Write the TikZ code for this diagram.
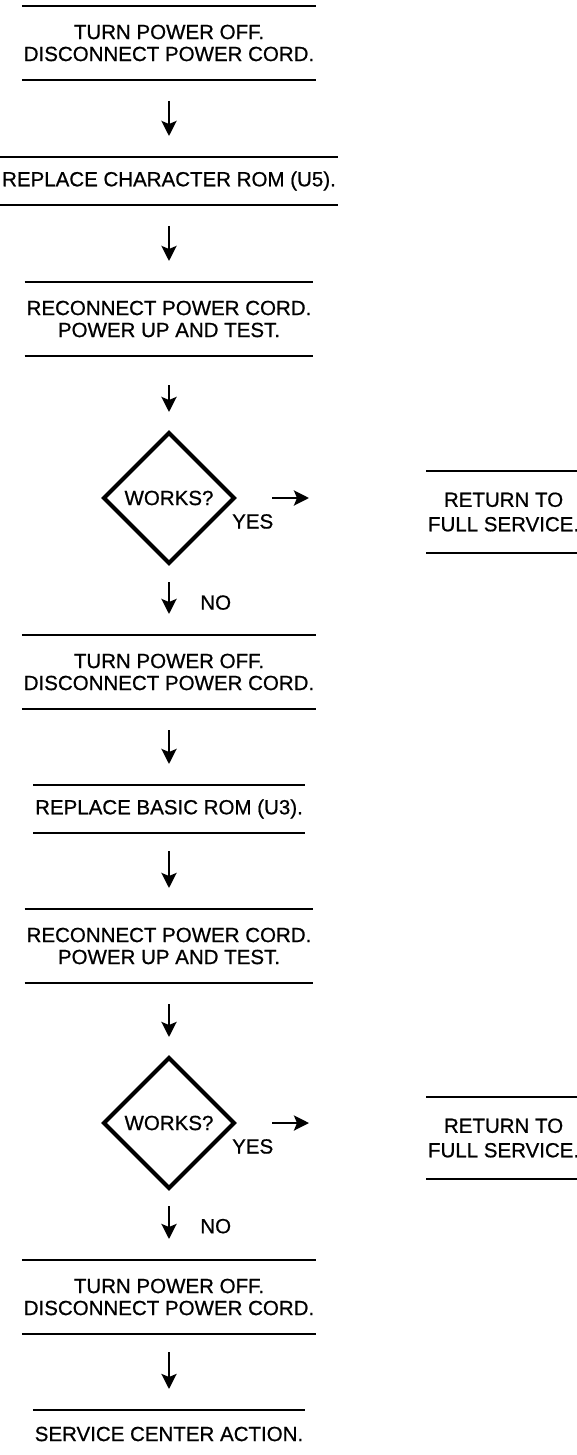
\documentclass[tikz,border=0pt]{standalone}
\usepackage{fontspec}
\setmainfont{Liberation Sans}[FakeBold=0.7]
\usetikzlibrary{shapes.geometric, arrows.meta, positioning}
\tikzset{
    stepbox/.style = {align=center, inner xsep=2pt, inner ysep=0pt, outer sep=0pt, font=\fontsize{20.5}{22}\selectfont},
    onebox/.style = {stepbox, minimum height=48pt},
    twobox/.style = {stepbox, minimum height=74pt},
    backbox/.style = {stepbox, minimum width=151pt, minimum height=82pt, font=\fontsize{20.5}{24.5}\selectfont},
    check/.style = {diamond, draw, line width=4.2pt, aspect=1, minimum width=130pt, minimum height=130pt, inner sep=0pt, outer sep=0pt, font=\fontsize{20.5}{22}\selectfont},
    ruleline/.style = {line width=2.2pt},
    flowarrow/.style = {line width=2.7pt, -{Stealth[length=15pt, width=15pt, inset=3pt]}, shorten <=21pt, shorten >=21pt},
    lbl/.style = {inner sep=0pt, font=\fontsize{20.5}{22}\selectfont}
}
\begin{document}
\begin{tikzpicture}[x=1pt, y=-1pt]
    \useasboundingbox (0,0) rectangle (577,1455);

    % first try: character ROM
    \node (b1) [twobox] at (169,43) {TURN POWER OFF.\\DISCONNECT POWER CORD.};
    \node (b2) [onebox, below=77pt of b1] {REPLACE CHARACTER ROM (U5).};
    \node (b3) [twobox, below=77pt of b2] {RECONNECT POWER CORD.\\POWER UP AND TEST.};
    \node (d1) [check, below=77pt of b3] {WORKS?};
    \node (yes1) [lbl, below right=16pt and -2pt of d1.east] {YES};
    \node (r1) [backbox, right=192pt of d1, yshift=-14pt] {RETURN TO\\FULL SERVICE.};

    % second try: basic ROM
    \node (b4) [twobox, below=72pt of d1] {TURN POWER OFF.\\DISCONNECT POWER CORD.};
    \node (b5) [onebox, below=76pt of b4] {REPLACE BASIC ROM (U3).};
    \node (b6) [twobox, below=76pt of b5] {RECONNECT POWER CORD.\\POWER UP AND TEST.};
    \node (d2) [check, below=75pt of b6] {WORKS?};
    \node (yes2) [lbl, below right=16pt and -2pt of d2.east] {YES};
    \node (r2) [backbox, right=192pt of d2, yshift=-15pt] {RETURN TO\\FULL SERVICE.};

    % last resort
    \node (b7) [twobox, below=72pt of d2] {TURN POWER OFF.\\DISCONNECT POWER CORD.};
    \node (b8) [onebox, below=76pt of b7] {SERVICE CENTER ACTION.};

    % rules above and below each step
    \foreach \n in {b1,b2,b3,b4,b5,b6,b7,r1,r2}
        \draw [ruleline] (\n.north west) -- (\n.north east) (\n.south west) -- (\n.south east);
    \draw [ruleline] (b8.north west) -- (b8.north east);

    % arrows
    \draw [flowarrow] (b1) -- (b2);
    \draw [flowarrow] (b2) -- (b3);
    \draw [flowarrow, shorten <=29pt] (b3) -- (d1);
    \draw [flowarrow, shorten <=38pt, shorten >=117pt] (d1.east) -- (d1.east -| r1.west);
    \draw [flowarrow, shorten <=19pt] (d1) -- (b4) node [lbl, right=30pt, pos=0.55] (no1) {NO};
    \draw [flowarrow] (b4) -- (b5);
    \draw [flowarrow, shorten <=18pt] (b5) -- (b6);
    \draw [flowarrow] (b6) -- (d2);
    \draw [flowarrow, shorten <=38pt, shorten >=117pt] (d2.east) -- (d2.east -| r2.west);
    \draw [flowarrow, shorten <=18pt] (d2) -- (b7) node [lbl, right=30pt, pos=0.53] (no2) {NO};
    \draw [flowarrow, shorten <=18pt] (b7) -- (b8);
\end{tikzpicture}
\end{document}
